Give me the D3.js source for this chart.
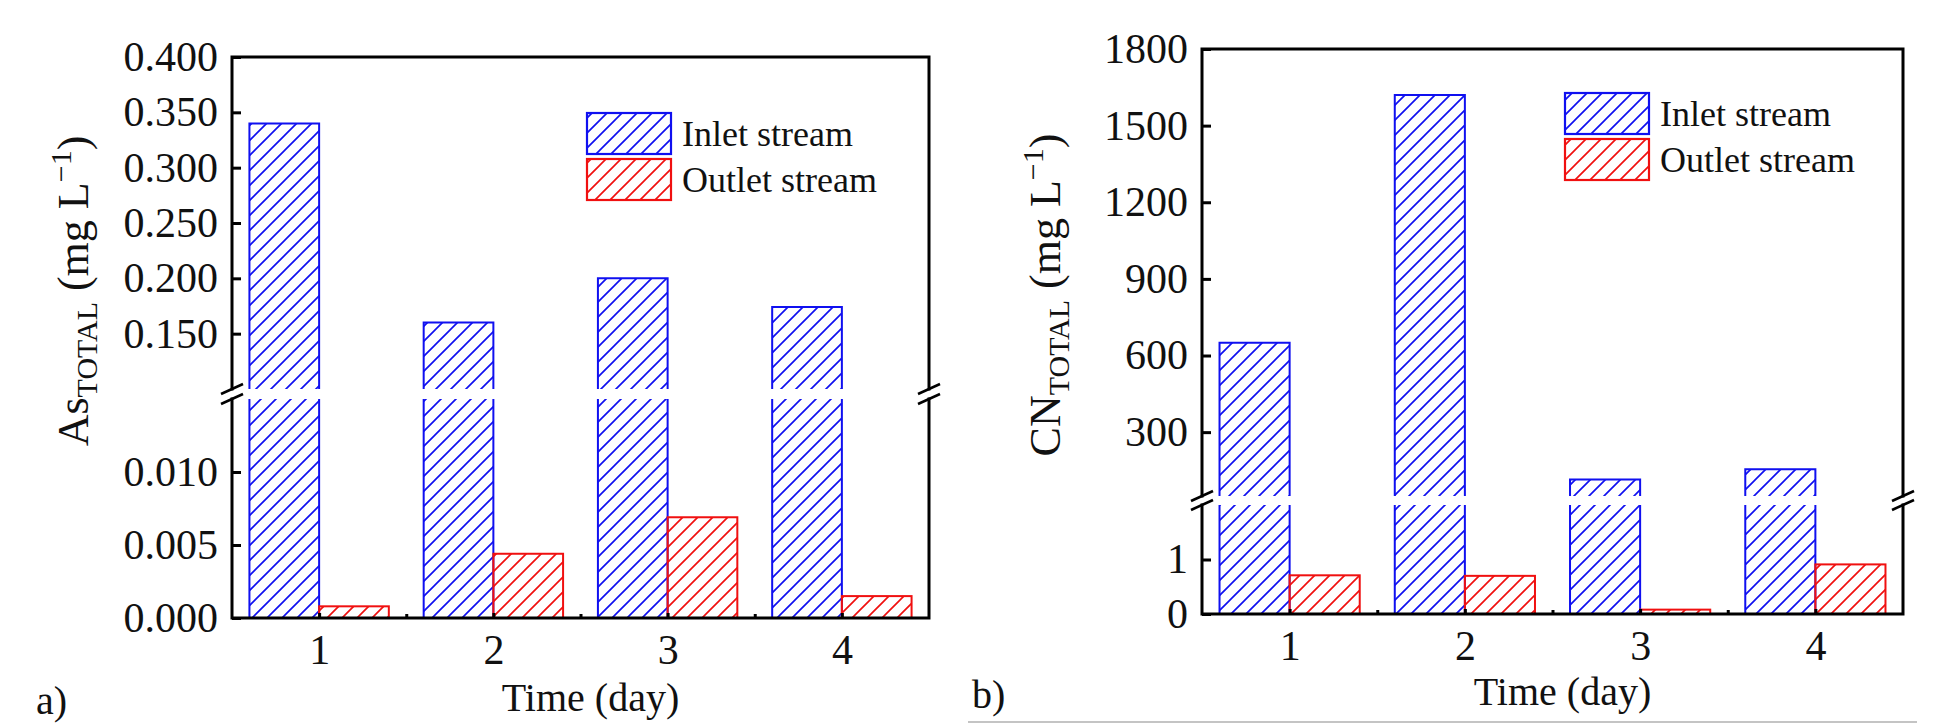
<!DOCTYPE html>
<html>
<head>
<meta charset="utf-8">
<script src="https://cdn.jsdelivr.net/npm/d3@7"></script>
<style>
  html, body { margin: 0; padding: 0; background: #fff; }
  svg { display: block; font-family: 'Liberation Serif', 'Times New Roman', serif; }
  svg text { font-family: 'Liberation Serif', 'Times New Roman', serif; }
</style>
</head>
<body>
<svg id="chart" width="1936" height="725"></svg>
<script>
// data
const days = [1, 2, 3, 4];
const seriesNames = ['Inlet stream', 'Outlet stream'];

const asInlet = [0.340, 0.160, 0.200, 0.174];
const asOutlet = [0.0008, 0.0044, 0.0069, 0.0015];
const cnInlet = [650, 1620, 115, 155];
const cnOutlet = [0.71, 0.70, 0.08, 0.91];

const asUpperTicks = [0.150, 0.200, 0.250, 0.300, 0.350, 0.400];
const asLowerTicks = [0.000, 0.005, 0.010];
const cnUpperTicks = [300, 600, 900, 1200, 1500, 1800];
const cnLowerTicks = [0, 1];

const blue = '#1010f0';
const red = '#f01010';
const serif = "'Liberation Serif', 'Times New Roman', serif";

const svg = d3.select('#chart');
const defs = svg.append('defs');

function hatch(id, color) {
  defs.append('pattern')
    .attr('id', id)
    .attr('patternUnits', 'userSpaceOnUse')
    .attr('width', 15)
    .attr('height', 15)
    .append('path')
    .attr('d', 'M-2,2 L2,-2 M0,15 L15,0 M13,17 L17,13')
    .attr('stroke', color)
    .attr('stroke-width', 1.7);
}
hatch('hatch-blue', blue);
hatch('hatch-red', red);

function styleAxis(ax) {
  ax.attr('font-family', null).attr('font-size', null);
  ax.select('.domain').remove();
  ax.selectAll('.tick line').attr('stroke', '#000').attr('stroke-width', 3);
  ax.selectAll('.tick text').attr('fill', '#111')
    .style('font-family', serif).style('font-size', '42px');
}

function drawPanel(p) {
  const g = svg.append('g');

  const x = d3.scaleLinear().domain([0.5, 4.5]).range([p.left, p.right]);
  const yUp = d3.scaleLinear().domain(p.upperDomain).range([p.breakTop, p.top]);
  const yLo = d3.scaleLinear().domain(p.lowerDomain).range([p.bottom, p.breakBottom]);
  const barW = x(1.4) - x(1);

  // bars, split at the axis break
  const series = [
    { values: p.inlet, color: blue, fill: 'url(#hatch-blue)', off: -barW },
    { values: p.outlet, color: red, fill: 'url(#hatch-red)', off: 0 }
  ];
  series.forEach(s => {
    days.forEach((d, i) => {
      const v = s.values[i];
      const x0 = x(d) + s.off, x1 = x0 + barW;
      if (v > p.lowerDomain[1]) {
        const yt = yUp(v);
        g.append('rect').attr('x', x0).attr('y', yt).attr('width', barW)
          .attr('height', p.breakTop - yt).attr('fill', s.fill);
        g.append('path')
          .attr('d', `M${x0},${p.breakTop}V${yt}H${x1}V${p.breakTop}`)
          .attr('fill', 'none').attr('stroke', s.color).attr('stroke-width', 2);
        g.append('rect').attr('x', x0).attr('y', p.breakBottom).attr('width', barW)
          .attr('height', p.bottom - p.breakBottom).attr('fill', s.fill);
        g.append('path')
          .attr('d', `M${x0},${p.breakBottom}V${p.bottom}M${x1},${p.breakBottom}V${p.bottom}`)
          .attr('fill', 'none').attr('stroke', s.color).attr('stroke-width', 2);
      } else {
        const yt = yLo(v);
        g.append('rect').attr('x', x0).attr('y', yt).attr('width', barW)
          .attr('height', p.bottom - yt).attr('fill', s.fill)
          .attr('stroke', s.color).attr('stroke-width', 2);
      }
    });
  });

  // y axes (ticks inward)
  const fmt = d3.format(p.fmt);
  [[yUp, p.upperTicks], [yLo, p.lowerTicks]].forEach(([sc, ticks]) => {
    g.append('g')
      .attr('transform', `translate(${p.left},0)`)
      .call(d3.axisLeft(sc).tickValues(ticks).tickFormat(fmt)
        .tickSizeInner(-9).tickSizeOuter(0).tickPadding(14))
      .call(styleAxis);
  });

  // x axis
  g.append('g')
    .attr('transform', `translate(0,${p.bottom})`)
    .call(d3.axisBottom(x).tickValues(days).tickFormat(d3.format('d'))
      .tickSizeInner(-5).tickSizeOuter(0).tickPadding(16))
    .call(styleAxis);
  g.append('g')
    .attr('transform', `translate(0,${p.bottom})`)
    .call(d3.axisBottom(x).tickValues([1.5, 2.5, 3.5]).tickFormat('')
      .tickSizeInner(-4).tickSizeOuter(0))
    .call(styleAxis);

  // frame with break
  g.append('path')
    .attr('stroke', '#000').attr('stroke-width', 3)
    .attr('fill', 'none').attr('stroke-linecap', 'square')
    .attr('d',
      `M${p.left},${p.breakTop}V${p.top}H${p.right}V${p.breakTop}` +
      `M${p.left},${p.breakBottom}V${p.bottom}H${p.right}V${p.breakBottom}`);
  [p.left, p.right].forEach(ax => {
    [p.breakTop, p.breakBottom].forEach(yb => {
      g.append('line')
        .attr('x1', ax - 11).attr('y1', yb + 5)
        .attr('x2', ax + 11).attr('y2', yb - 5)
        .attr('stroke', '#000').attr('stroke-width', 2.5);
    });
  });

  // legend
  const lg = g.append('g');
  [[blue, 'url(#hatch-blue)'], [red, 'url(#hatch-red)']].forEach(([c, f], i) => {
    const ly = p.legendY + i * 46;
    lg.append('rect').attr('x', p.legendX).attr('y', ly).attr('width', 84).attr('height', 41)
      .attr('fill', f).attr('stroke', c).attr('stroke-width', 2.2);
    lg.append('text').attr('x', p.legendX + 95).attr('y', ly + 33)
      .attr('font-size', 36).attr('fill', '#111').text(seriesNames[i]);
  });

  // axis titles
  g.append('text').attr('x', (p.left + p.right) / 2 + p.xTitleDx).attr('y', p.xTitleY)
    .attr('text-anchor', 'middle').attr('font-size', 40).attr('fill', '#111')
    .text('Time (day)');

  const yt = g.append('text')
    .attr('transform', `translate(${p.yTitleX},${p.yTitleY}) rotate(-90)`)
    .attr('text-anchor', 'middle').attr('font-size', 44).attr('fill', '#111');
  yt.append('tspan').text(p.species);
  yt.append('tspan').attr('font-size', 30).attr('dy', 9).text('TOTAL');
  yt.append('tspan').attr('dy', -9).text(' (mg L');
  yt.append('tspan').attr('font-size', 30).attr('dy', -17).text('\u22121');
  yt.append('tspan').attr('dy', 17).text(')');

  g.append('text').attr('x', p.tagX).attr('y', p.tagY)
    .attr('font-size', 40).attr('fill', '#111').text(p.tag);
}

drawPanel({
  left: 232, right: 929, top: 57, bottom: 618, breakTop: 389, breakBottom: 399,
  upperDomain: [0.1, 0.4], lowerDomain: [0, 0.015],
  upperTicks: asUpperTicks, lowerTicks: asLowerTicks, fmt: '.3f',
  inlet: asInlet, outlet: asOutlet,
  legendX: 587, legendY: 113,
  xTitleY: 711, xTitleDx: 10, yTitleX: 88, yTitleY: 291,
  species: 'As', tag: 'a)', tagX: 36, tagY: 714
});

drawPanel({
  left: 1202, right: 1903, top: 49, bottom: 614, breakTop: 496, breakBottom: 505,
  upperDomain: [50, 1800], lowerDomain: [0, 2],
  upperTicks: cnUpperTicks, lowerTicks: cnLowerTicks, fmt: 'd',
  inlet: cnInlet, outlet: cnOutlet,
  legendX: 1565, legendY: 93,
  xTitleY: 705, xTitleDx: 10, yTitleX: 1060, yTitleY: 295,
  species: 'CN', tag: 'b)', tagX: 972, tagY: 708
});

// thin page rule under panel b
svg.append('line').attr('x1', 968).attr('x2', 1917).attr('y1', 722).attr('y2', 722)
  .attr('stroke', '#b0b0b0').attr('stroke-width', 1.5);
</script>
</body>
</html>
